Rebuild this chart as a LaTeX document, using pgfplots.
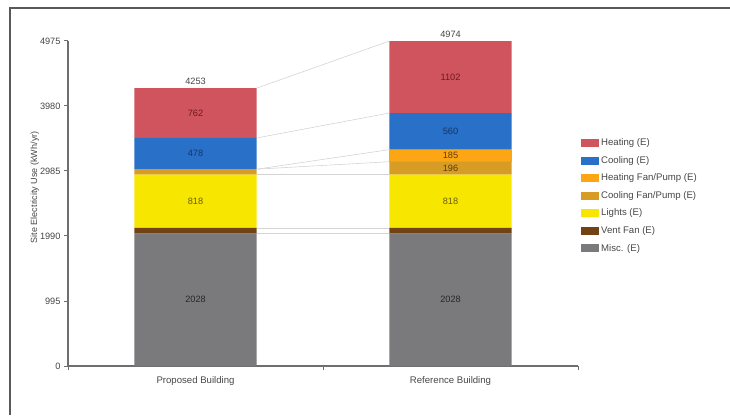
\documentclass[border=0pt]{standalone}
\usepackage{pgfplots}
\pgfplotsset{compat=1.18}
\usepackage{fontspec}
\setmainfont{Liberation Sans}
\definecolor{cHeat}{RGB}{208,84,94}
\definecolor{cCool}{RGB}{40,112,200}
\definecolor{cHFP}{RGB}{252,166,20}
\definecolor{cCFP}{RGB}{214,156,38}
\definecolor{cLight}{RGB}{246,230,0}
\definecolor{cVent}{RGB}{112,66,20}
\definecolor{cMisc}{RGB}{122,122,124}
\definecolor{axgray}{RGB}{110,110,110}
\definecolor{txt}{RGB}{70,70,70}
\definecolor{linkgray}{RGB}{212,212,212}
\definecolor{lHeat}{RGB}{110,25,35}
\definecolor{lCool}{RGB}{20,55,105}
\definecolor{lLight}{RGB}{105,95,10}
\definecolor{lFP}{RGB}{95,60,10}
\definecolor{lMisc}{RGB}{40,40,40}
\begin{document}
\begin{tikzpicture}[x=1pt,y=1pt]
\pgfplotsset{
  common/.style={
    scale only axis, width=510pt, height=325pt,
    at={(68pt,49pt)}, anchor=south west,
    xmin=-0.5, xmax=1.5, ymin=0, ymax=4975,
    clip=false,
  },
  lbl/.style={draw=none, mark=none, forget plot, nodes near coords,
    point meta=explicit symbolic, nodes near coords align={anchor=center},
    every node near coord/.append style={font=\fontsize{9.2}{11}\selectfont, text=#1}},
  link/.style={linkgray, line width=0.6pt, forget plot},
}
\begin{axis}[common,
  ybar stacked, bar width=0.48,
  axis x line*=bottom, axis y line*=left,
  axis line style={axgray, line width=1.2pt},
  ytick={0,995,1990,2985,3980,4975},
  scaled y ticks=false,
  /pgf/number format/assume math mode=true,
  /pgf/number format/1000 sep={},
  tick align=outside,
  major tick length=4pt,
  tick style={axgray, line width=1pt},
  yticklabel style={font=\fontsize{9.2}{11}\selectfont, text=txt},
  xtick={-0.5,0.5,1.5}, xticklabels={},
  extra x ticks={0,1},
  extra x tick labels={Proposed Building, Reference Building},
  extra x tick style={major tick length=0pt,
    xticklabel style={font=\fontsize{9.6}{11}\selectfont, text=txt, yshift=-7pt}},
  every axis y label/.style={at={(axis description cs:-0.065,0.55)}, rotate=90, anchor=center,
    font=\fontsize{9}{11}\selectfont, text=txt},
  ylabel={Site Electricity Use (kWh/yr)},
  reverse legend,
  legend cell align=left,
  legend image code/.code={\path[#1,draw=none,fill] (0pt,-4pt) rectangle (18pt,4pt);},
  legend style={at={(1.0,0.712)}, anchor=north west, draw=none, fill=none,
    font=\fontsize{9.6}{11}\selectfont, text=txt, row sep=5.1pt},
]
\addplot[fill=cMisc, draw=none] coordinates {(0,2028) (1,2028)};
\addlegendentry{Misc. (E)}
\addplot[fill=cVent, draw=none] coordinates {(0,85) (1,85)};
\addlegendentry{Vent Fan (E)}
\addplot[fill=cLight, draw=none] coordinates {(0,818) (1,818)};
\addlegendentry{Lights (E)}
\addplot[fill=cCFP, draw=none] coordinates {(0,82) (1,196)};
\addlegendentry{Cooling Fan/Pump (E)}
\addplot[fill=cHFP, draw=none] coordinates {(0,0) (1,185)};
\addlegendentry{Heating Fan/Pump (E)}
\addplot[fill=cCool, draw=none] coordinates {(0,478) (1,560)};
\addlegendentry{Cooling (E)}
\addplot[fill=cHeat, draw=none] coordinates {(0,762) (1,1102)};
\addlegendentry{Heating (E)}
\end{axis}
\begin{axis}[common, hide axis]
\addplot[link] coordinates {(0.24,2028) (0.76,2028)};
\addplot[link] coordinates {(0.24,2113) (0.76,2113)};
\addplot[link] coordinates {(0.24,2931) (0.76,2931)};
\addplot[link] coordinates {(0.24,3013) (0.76,3127)};
\addplot[link] coordinates {(0.24,3013) (0.76,3312)};
\addplot[link] coordinates {(0.24,3491) (0.76,3872)};
\addplot[link] coordinates {(0.24,4253) (0.76,4974)};
\addplot[lbl=lMisc] coordinates {(0,1014) [2028] (1,1014) [2028]};
\addplot[lbl=lLight] coordinates {(0,2522) [818] (1,2522) [818]};
\addplot[lbl=lFP] coordinates {(1,3029) [196] (1,3219.5) [185]};
\addplot[lbl=lCool] coordinates {(0,3252) [478] (1,3592) [560]};
\addplot[lbl=lHeat] coordinates {(0,3872) [762] (1,4423) [1102]};
\addplot[lbl=txt, nodes near coords align={anchor=south}] coordinates {(0,4253) [4253] (1,4974) [4974]};
\end{axis}
\draw[gray!70!black, line width=1.5pt] (10pt,0pt) -- (10pt,407pt) -- (730pt,407pt);
\pgfresetboundingbox
\useasboundingbox (0pt,0pt) rectangle (730pt,415pt);
\end{tikzpicture}
\end{document}
